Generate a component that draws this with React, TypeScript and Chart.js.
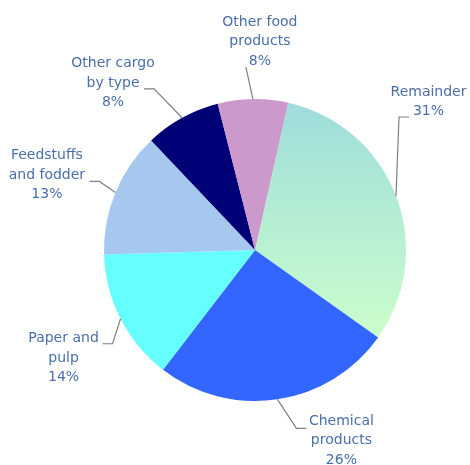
import React, { useEffect, useRef } from "react";
import { Chart, registerables } from "chart.js";

Chart.register(...registerables);

const categories = [
  ["Remainder"],
  ["Chemical", "products"],
  ["Paper and", "pulp"],
  ["Feedstuffs", "and fodder"],
  ["Other cargo", "by type"],
  ["Other food", "products"],
];
const shares = [31.3, 25.6, 14.1, 13.4, 8.1, 7.5];
const percentLabels = ["31%", "26%", "14%", "13%", "8%", "8%"];
const colors = ["gradient", "#3366ff", "#66ffff", "#a6c8ee", "#000077", "#cc99cc"];

// leader-line style: elbow offset from slice edge, horizontal tail, text offset from line end
const leaderStyle = [
  { elbow: [3, -79], tail: 10, text: [19.5, -25] },
  { elbow: [19, 29], tail: 10, text: [35, -7] },
  { elbow: [-8, 25], tail: -10, text: [-39, -5] },
  { elbow: [-16, -11], tail: -10, text: [-42.5, -26] },
  { elbow: [-28, -29], tail: -10, text: [-31, -25] },
  { elbow: [-7, -32], tail: 0, text: [14, -45] },
];

const labelPlugin = {
  id: "leaderLabels",
  afterDraw(chart: any) {
    const ctx = chart.ctx;
    const meta = chart.getDatasetMeta(0);
    ctx.save();
    meta.data.forEach((arc: any, i: number) => {
      const p = arc.getProps(["x", "y", "outerRadius", "startAngle", "endAngle"], true);
      const mid = (p.startAngle + p.endAngle) / 2;
      const sx = p.x + Math.cos(mid) * p.outerRadius;
      const sy = p.y + Math.sin(mid) * p.outerRadius;
      const st = leaderStyle[i];
      const ex = sx + st.elbow[0];
      const ey = sy + st.elbow[1];
      const tx = ex + st.tail;
      ctx.strokeStyle = "#808080";
      ctx.lineWidth = 1.2;
      ctx.beginPath();
      ctx.moveTo(sx, sy);
      ctx.lineTo(ex, ey);
      if (st.tail) ctx.lineTo(tx, ey);
      ctx.stroke();
      const lines = [...categories[i], percentLabels[i]];
      ctx.fillStyle = "#4a6fa8";
      ctx.font = "14px 'DejaVu Sans'";
      ctx.textAlign = "center";
      ctx.textBaseline = "middle";
      lines.forEach((t, k) => {
        ctx.fillText(t, tx + st.text[0], ey + st.text[1] + k * 19.5);
      });
    });
    ctx.restore();
  },
};

export default function App() {
  const ref = useRef<HTMLCanvasElement>(null);
  useEffect(() => {
    document.body.style.margin = "0";
    const chart = new Chart(ref.current!, {
      type: "pie",
      data: {
        labels: categories.map((c) => c.join(" ")),
        datasets: [
          {
            data: shares,
            borderWidth: 0,
            backgroundColor: (context: any) => {
              const c = colors[context.dataIndex];
              if (c !== "gradient") return c;
              const area = context.chart.chartArea;
              if (!area) return "#b4eed4";
              const g = context.chart.ctx.createLinearGradient(0, area.top, 0, area.top + (area.bottom - area.top) * 0.8);
              g.addColorStop(0, "#9edcdc");
              g.addColorStop(1, "#ccffcc");
              return g;
            },
          },
        ],
      },
      options: {
        animation: false,
        responsive: false,
        rotation: 12.7,
        layout: { padding: { left: 104, right: 64, top: 99, bottom: 64 } },
        plugins: { legend: { display: false }, tooltip: { enabled: false } },
      },
      plugins: [labelPlugin],
    });
    return () => chart.destroy();
  }, []);
  return (
    <div style={{ width: 470, height: 465 }}>
      <canvas ref={ref} width={470} height={465} />
    </div>
  );
}
